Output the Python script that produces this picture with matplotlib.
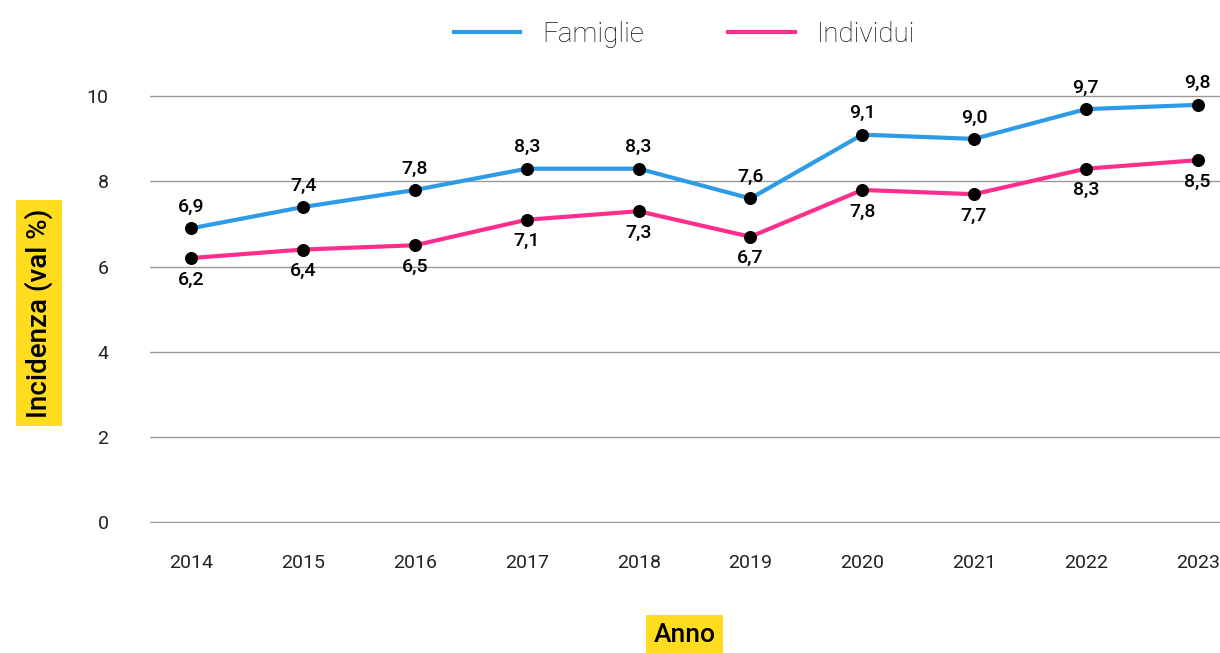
import matplotlib
matplotlib.use("Agg")
import matplotlib.pyplot as plt
import numpy as np

plt.rcParams['font.family'] = ['Roboto', 'DejaVu Sans']

years = ["2014", "2015", "2016", "2017", "2018", "2019", "2020", "2021", "2022", "2023"]
famiglie = [6.9, 7.4, 7.8, 8.3, 8.3, 7.6, 9.1, 9.0, 9.7, 9.8]
individui = [6.2, 6.4, 6.5, 7.1, 7.3, 6.7, 7.8, 7.7, 8.3, 8.5]

BLUE = "#2e9be6"
PINK = "#ff2e8c"
YELLOW = "#ffdd1e"

fig = plt.figure(figsize=(12.2, 6.53), dpi=100)
ax = fig.add_axes([0.123, 0.199, 0.877, 0.686])

x = np.arange(len(years))
ax.plot(x, famiglie, color=BLUE, lw=3, label="Famiglie", zorder=3)
ax.plot(x, individui, color=PINK, lw=3, label="Individui", zorder=3)
ax.scatter(x, famiglie, s=70, color="black", zorder=4)
ax.scatter(x, individui, s=70, color="black", zorder=4)

def fmt(v):
    return f"{v:.1f}".replace(".", ",")

for xi, v in zip(x, famiglie):
    ax.annotate(fmt(v), (xi, v), xytext=(0, 9), textcoords="offset points",
                ha="center", va="bottom", fontsize=14, fontweight="medium")
for xi, v in zip(x, individui):
    ax.annotate(fmt(v), (xi, v), xytext=(0, -9), textcoords="offset points",
                ha="center", va="top", fontsize=14, fontweight="medium")

ax.set_xlim(-0.37, 9.2)
ax.set_ylim(-0.03, 10.5)
ax.set_yticks([0, 2, 4, 6, 8, 10])
ax.set_xticks(x)
ax.set_xticklabels(years)
ax.grid(axis="y", color="#9a9a9a", lw=1)
ax.set_axisbelow(True)
for s in ax.spines.values():
    s.set_visible(False)
ax.tick_params(axis="both", length=0, labelsize=14, colors="#222222")
ax.tick_params(axis="y", pad=30)
ax.tick_params(axis="x", pad=22)

fig.text(0.032, 0.52, "Incidenza (val %)", rotation=90, ha="center", va="center",
         fontsize=20, fontweight="medium",
         bbox=dict(boxstyle="square,pad=0.3", fc=YELLOW, ec="none"))
fig.text(0.561, 0.027, "Anno", ha="center", va="center",
         fontsize=19, fontweight="medium",
         bbox=dict(boxstyle="square,pad=0.3", fc=YELLOW, ec="none"))

leg = fig.legend(loc="upper center", bbox_to_anchor=(0.561, 1.006), ncol=2, frameon=False,
                 handlelength=2.4, columnspacing=3.0, handletextpad=0.8,
                 prop={"weight": "light", "size": 20})
for t in leg.get_texts():
    t.set_color("#111111")

fig.savefig("out.png", dpi=100)
